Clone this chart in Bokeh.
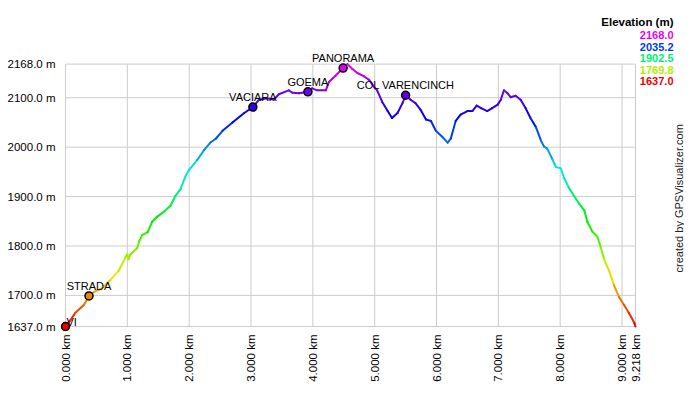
import math
import colorsys
from bokeh.plotting import figure
from bokeh.models import (ColumnDataSource, FixedTicker, PrintfTickFormatter,
                          Label, LabelSet, Range1d)
from bokeh.transform import linear_cmap
from bokeh.core.properties import value
from bokeh.embed import file_html
from bokeh.resources import INLINE

# ---------------- data ----------------
dist_km = [0.00, 0.08, 0.16, 0.30, 0.38, 0.46, 0.59, 0.73, 0.86, 0.97, 1.00, 1.02, 1.05,
           1.16, 1.19, 1.24, 1.33, 1.40, 1.48, 1.59, 1.70, 1.78, 1.86, 1.94, 2.00, 2.13,
           2.24, 2.35, 2.43, 2.54, 2.70, 2.89, 3.03, 3.13, 3.26, 3.37, 3.45, 3.61, 3.67,
           3.78, 3.92, 3.99, 4.07, 4.21, 4.26, 4.37, 4.49, 4.56, 4.64, 4.72, 4.83, 4.91,
           4.99, 5.04, 5.12, 5.21, 5.28, 5.37, 5.45, 5.50, 5.58, 5.66, 5.74, 5.83, 5.91,
           5.99, 6.10, 6.18, 6.23, 6.31, 6.39, 6.50, 6.58, 6.65, 6.72, 6.82, 6.90, 6.99,
           7.04, 7.09, 7.15, 7.20, 7.28, 7.36, 7.44, 7.52, 7.61, 7.69, 7.74, 7.79, 7.88,
           7.93, 8.01, 8.06, 8.14, 8.22, 8.31, 8.39, 8.44, 8.52, 8.60, 8.66, 8.71, 8.79,
           8.87, 8.95, 9.03, 9.11, 9.20, 9.218]
elev_m = [1637, 1650, 1665, 1681, 1699, 1707, 1714, 1732, 1750, 1777, 1783, 1773, 1783,
          1796, 1809, 1822, 1828, 1849, 1859, 1869, 1882, 1902, 1915, 1941, 1954, 1974,
          1994, 2010, 2017, 2033, 2050, 2069, 2081, 2096, 2099, 2096, 2107, 2115, 2110,
          2109, 2112, 2119, 2115, 2115, 2132, 2145, 2160, 2168, 2158, 2150, 2143, 2136,
          2122, 2115, 2092, 2073, 2059, 2069, 2089, 2105, 2096, 2089, 2076, 2056, 2053,
          2033, 2020, 2009, 2017, 2053, 2066, 2073, 2073, 2084, 2079, 2073, 2079, 2086,
          2096, 2115, 2109, 2101, 2104, 2096, 2079, 2059, 2040, 2013, 2001, 1997, 1974,
          1960, 1957, 1938, 1918, 1902, 1885, 1872, 1849, 1829, 1819, 1796, 1773, 1750,
          1721, 1697, 1681, 1665, 1644, 1637]

wpt_names = ["STRADA", "VACIARA", "GOEMA", "PANORAMA", "COL VARENCINCH"]
wpt_km = [0.38, 3.03, 3.92, 4.49, 5.50]
wpt_elev = [1699, 2081, 2112, 2160, 2105]
start_name = "VI"
start_km = 0.0
start_elev = 1637

x_ticks = [0, 1, 2, 3, 4, 5, 6, 7, 8, 9, 9.218]
y_ticks = [1637, 1700, 1800, 1900, 2000, 2100, 2168]
legend_values = [2168.0, 2035.2, 1902.5, 1769.8, 1637.0]
legend_title = "Elevation (m)"
credit = "created by GPSVisualizer.com"

EMIN, EMAX = 1637.0, 2168.0
XMIN, XMAX = 0.0, 9.218

# ---------------- layout (pixels in the figure canvas) ----------------
W, H = 684, 384
BOX_L, BOX_R, BOX_T, BOX_B = 65, 635, 64, 328   # grid box
PAD = 5                                          # frame extends beyond grid box
px_per_km = (BOX_R - BOX_L) / (XMAX - XMIN)
m_per_px = (EMAX - EMIN) / (BOX_B - BOX_T)


def dx(px):
    return XMIN + (px - BOX_L) / px_per_km


def dy(py):
    return EMAX - (py - BOX_T) * m_per_px


def hue_color(frac):
    r, g, b = colorsys.hsv_to_rgb(frac * 300.0 / 360.0, 1.0, 0.93)
    return "#%02x%02x%02x" % (int(r * 255), int(g * 255), int(b * 255))


palette = [hue_color(i / 255.0) for i in range(256)]
FONT = "Liberation Sans"
GRID = "#cccccc"

seg = ColumnDataSource(dict(
    x0=dist_km[:-1], x1=dist_km[1:], y0=elev_m[:-1], y1=elev_m[1:],
    e=[(a + b) / 2.0 for a, b in zip(elev_m[:-1], elev_m[1:])]))
wpts = ColumnDataSource(dict(x=wpt_km, y=wpt_elev, name=wpt_names))

p = figure(width=W, height=H,
           x_range=Range1d(dx(BOX_L - PAD), dx(W)),
           y_range=Range1d(dy(BOX_B + PAD), dy(0)),
           output_backend="svg", toolbar_location=None,
           min_border_left=BOX_L - PAD, min_border_right=0, min_border_top=0,
           min_border_bottom=H - BOX_B - PAD)
p.background_fill_color = "white"
p.border_fill_color = "white"
p.outline_line_color = None
p.xgrid.visible = False
p.ygrid.visible = False

# grid box and grid lines at the tick positions
p.segment(x0=x_ticks, x1=x_ticks, y0=[EMIN] * len(x_ticks), y1=[EMAX] * len(x_ticks),
          line_color=GRID, line_width=1)
p.segment(x0=[XMIN] * len(y_ticks), x1=[XMAX] * len(y_ticks), y0=y_ticks, y1=y_ticks,
          line_color=GRID, line_width=1)

# profile, coloured by elevation
cmap = linear_cmap("e", palette, EMIN, EMAX)
p.segment("x0", "y0", "x1", "y1", source=seg, line_color=cmap, line_width=2,
          line_cap="round")

# waypoints
p.scatter("x", "y", source=wpts, size=8, fill_color=linear_cmap("y", palette, EMIN, EMAX),
          line_color="black", line_width=1.5)
p.scatter([start_km], [start_elev], size=8, fill_color=palette[0], line_color="black",
          line_width=1.5)
p.add_layout(LabelSet(x="x", y="y", text="name", source=wpts, text_align="center",
                      text_baseline="alphabetic", y_offset=6, text_font=value(FONT),
                      text_font_size="11px", text_color="black"))
p.add_layout(Label(x=start_km, y=start_elev, text=start_name, text_align="left",
                   text_baseline="alphabetic", x_offset=1, y_offset=5, text_font=FONT,
                   text_font_size="11px", text_color="black"))

# axes
p.xaxis.ticker = FixedTicker(ticks=x_ticks)
p.xaxis.formatter = PrintfTickFormatter(format="%.3f km")
p.xaxis.major_label_orientation = math.pi / 2
p.xaxis.bounds = (XMIN, XMAX)
p.yaxis.ticker = FixedTicker(ticks=y_ticks)
p.yaxis.formatter = PrintfTickFormatter(format="%.1f m")
p.yaxis.bounds = (EMIN, EMAX)
for ax in (p.xaxis, p.yaxis):
    ax.axis_line_color = None
    ax.major_tick_line_color = None
    ax.minor_tick_line_color = None
    ax.major_tick_out = 0
    ax.major_tick_in = 0
    ax.major_label_text_font = FONT
    ax.major_label_text_font_size = "11.5px"
    ax.major_label_text_color = "black"
p.xaxis.major_label_standoff = 3
p.yaxis.major_label_standoff = 5

# elevation colour key
p.add_layout(Label(x=dx(673), y=dy(22), text=legend_title, text_align="right",
                   text_baseline="middle", text_font=FONT, text_font_style="bold",
                   text_font_size="11.5px", text_color="black"))
for i, v in enumerate(legend_values):
    p.add_layout(Label(x=dx(673), y=dy(35 + i * 11.5), text="%.1f" % v,
                       text_align="right", text_baseline="middle", text_font=FONT,
                       text_font_style="bold", text_font_size="11px",
                       text_color=hue_color((v - EMIN) / (EMAX - EMIN))))

# credit
p.add_layout(Label(x=dx(678), y=dy(199), text=credit, angle=math.pi / 2,
                   text_align="center", text_baseline="middle", text_font=FONT,
                   text_font_size="11px", text_color="#222222"))

open("out.html", "w").write(file_html(p, INLINE))
